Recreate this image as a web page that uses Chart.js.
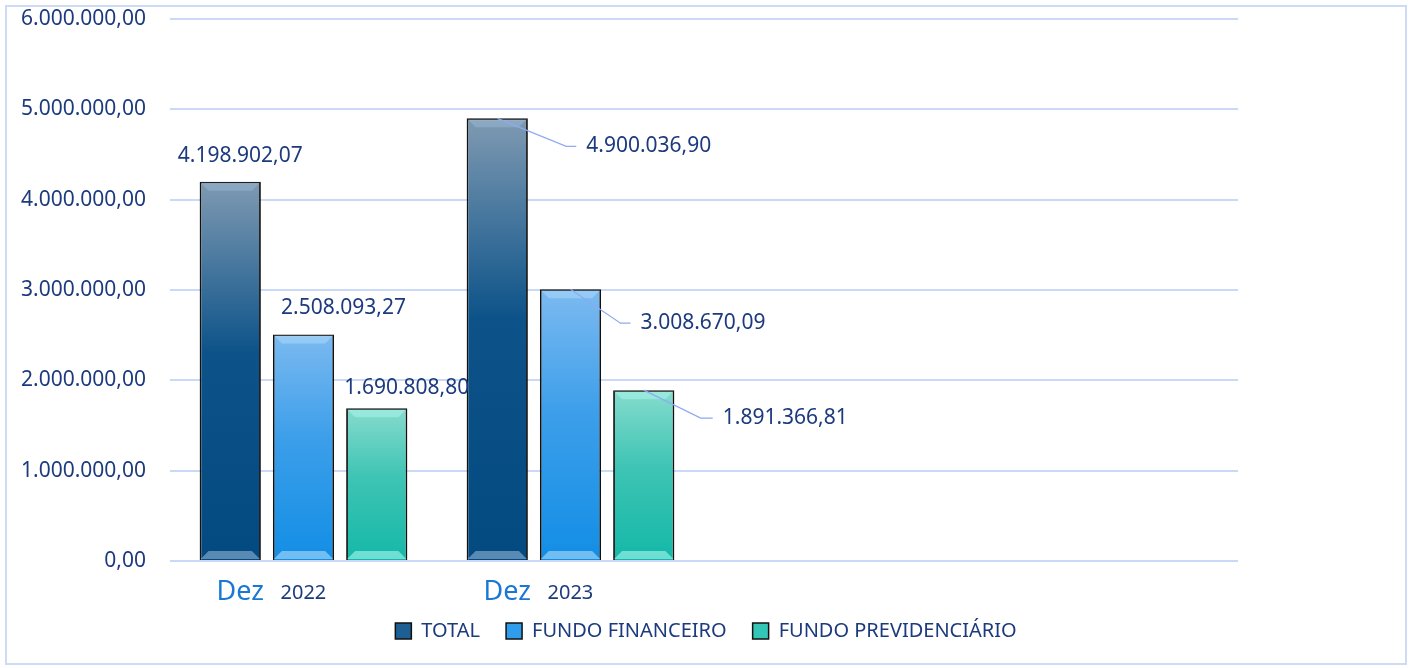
<!DOCTYPE html>
<html lang="pt">
<head>
  <meta charset="UTF-8" />
  <title>Total / Fundo Financeiro / Fundo Previdenciário</title>
  <script src="https://cdn.jsdelivr.net/npm/chart.js"></script>
  <style>
    html, body {
      margin: 0;
      padding: 0;
      background: #fff;
    }

    .frame {
      position: absolute;
      left: 5px;
      top: 5px;
      width: 1398px;
      height: 656px;
      border: 2px solid #cddcf4;
      pointer-events: none;
    }

    .chart-wrap {
      position: absolute;
      left: 0;
      top: 0;
      width: 1412px;
      height: 668px;
    }
  </style>
</head>
<body>
  <div class="chart-wrap">
    <canvas id="chart"></canvas>
  </div>
  <div class="frame"></div>

  <script>
    // periods (last two slots are empty in the original)
    const months = ['Dez', 'Dez', '', ''];
    const years = ['2022', '2023', '', ''];
    const seriesNames = ['TOTAL', 'FUNDO FINANCEIRO', 'FUNDO PREVIDENCIÁRIO'];
    const totalValues = [4198902.07, 4900036.90, null, null];
    const financeiroValues = [2508093.27, 3008670.09, null, null];
    const previdenciarioValues = [1690808.80, 1891366.81, null, null];
    const yTicks = [0, 1000000, 2000000, 3000000, 4000000, 5000000, 6000000];

    const textColor = '#1c3a7e';
    const fontFamily = '"Noto Sans", "Open Sans", sans-serif';

    const fmt = (v) => v.toLocaleString('pt-BR', { minimumFractionDigits: 2, maximumFractionDigits: 2 });

    // top/bottom colours of each bar gradient
    const palettes = [
      { top: '#7f9ab2', mid: '#0d5389', bottom: '#034a80', legend: '#1d5f92', bevel: '#9fc0dc' },
      { top: '#7cbaf0', mid: '#3d9fea', bottom: '#128ee5', legend: '#2f9cec', bevel: '#bfe6ff' },
      { top: '#86dccd', mid: '#3ec4b4', bottom: '#14b8a8', legend: '#33c6b6', bevel: '#b6fff4' }
    ];

    function barGradient(ctx, idx) {
      const chart = ctx.chart;
      if (!chart.chartArea || ctx.type !== 'data') return palettes[idx].mid;
      const y = chart.scales.y;
      const v = ctx.raw;
      if (v == null) return palettes[idx].mid;
      const top = y.getPixelForValue(v);
      const bottom = y.getPixelForValue(0);
      const g = chart.ctx.createLinearGradient(0, top, 0, bottom);
      const p = palettes[idx];
      g.addColorStop(0, p.top);
      g.addColorStop(0.45, p.mid);
      g.addColorStop(1, p.bottom);
      return g;
    }

    // label placement: 2022 labels above the bars, 2023 labels with leader lines
    const labelPlugin = {
      id: 'valueLabels',
      afterDatasetsDraw(chart) {
        const c = chart.ctx;
        c.save();
        c.font = '21px ' + fontFamily;
        c.fillStyle = textColor;
        c.textBaseline = 'middle';
        const above = [[10, -26], [40, -26], [30, -20]];
        const leader = [[69, 28, 10], [50, 34, 10], [57, 28, 12]];
        chart.data.datasets.forEach((ds, di) => {
          const meta = chart.getDatasetMeta(di);
          meta.data.forEach((bar, i) => {
            const v = ds.data[i];
            if (v == null) return;
            const txt = fmt(v);
            if (i === 0) {
              c.textAlign = 'center';
              c.fillText(txt, bar.x + above[di][0], bar.y + above[di][1]);
            } else {
              const [dx, dy, h] = leader[di];
              c.strokeStyle = '#8fa9f2';
              c.lineWidth = 1.2;
              c.beginPath();
              c.moveTo(bar.x, bar.y);
              c.lineTo(bar.x + dx, bar.y + dy);
              c.lineTo(bar.x + dx + h, bar.y + dy);
              c.stroke();
              c.textAlign = 'left';
              c.fillText(txt, bar.x + dx + h + 10, bar.y + dy);
            }
          });
        });
        c.restore();
      }
    };

    // bevel highlights on top/bottom of each bar
    const bevelPlugin = {
      id: 'bevel',
      afterDatasetDraw(chart, args) {
        const c = chart.ctx;
        const p = palettes[args.index];
        const vals = chart.data.datasets[args.index].data;
        c.save();
        args.meta.data.forEach((bar, i) => {
          if (vals[i] == null) return;
          const l = bar.x - bar.width / 2 + 1;
          const r = bar.x + bar.width / 2 - 1;
          const b = bar.base - 1;
          const t = bar.y + 1;
          const d = 8;
          c.fillStyle = p.bevel;
          c.globalAlpha = 0.55;
          c.beginPath();
          c.moveTo(l, b); c.lineTo(r, b); c.lineTo(r - d, b - d); c.lineTo(l + d, b - d);
          c.closePath(); c.fill();
          c.globalAlpha = 0.4;
          c.beginPath();
          c.moveTo(l, t); c.lineTo(r, t); c.lineTo(r - d, t + d); c.lineTo(l + d, t + d);
          c.closePath(); c.fill();
        });
        c.restore();
      }
    };

    // two-font category labels ("Dez" + year)
    const catPlugin = {
      id: 'catLabels',
      afterDraw(chart) {
        const c = chart.ctx;
        const x = chart.scales.x;
        const yPos = chart.chartArea.bottom + 31;
        c.save();
        c.textBaseline = 'middle';
        months.forEach((m, i) => {
          if (!m) return;
          const cx = x.getPixelForValue(i);
          c.textAlign = 'left';
          c.font = '27px ' + fontFamily;
          c.fillStyle = '#1a78d4';
          c.fillText(m, cx - 87, yPos);
          c.font = '20px ' + fontFamily;
          c.fillStyle = textColor;
          c.fillText(years[i], cx - 23, yPos + 1);
        });
        c.restore();
      }
    };

    new Chart(document.getElementById('chart'), {
      type: 'bar',
      data: {
        labels: months.map((m, i) => (m + ' ' + years[i]).trim()),
        datasets: [totalValues, financeiroValues, previdenciarioValues].map((vals, idx) => ({
          label: seriesNames[idx],
          data: vals,
          backgroundColor: (ctx) => barGradient(ctx, idx),
          borderColor: '#111',
          borderWidth: 1.8,
          categoryPercentage: 0.823,
          barPercentage: 0.836
        }))
      },
      options: {
        responsive: true,
        maintainAspectRatio: false,
        animation: false,
        layout: {
          padding: { top: 19, right: 0, bottom: 17, left: 0 }
        },
        scales: {
          x: {
            // kept only to reserve room for the category labels drawn by catPlugin
            border: { display: false },
            grid: { display: false, drawTicks: false },
            ticks: {
              color: 'rgba(0,0,0,0)',
              padding: 2,
              maxRotation: 0,
              autoSkip: false,
              font: { family: fontFamily, size: 20 }
            },
            afterFit: (axis) => {
              axis.height = 34;
              axis.paddingLeft = 0;
              axis.paddingRight = 0;
            }
          },
          y: {
            min: 0,
            max: 6000000,
            afterBuildTicks: (axis) => { axis.ticks = yTicks.map((v) => ({ value: v })); },
            afterFit: (axis) => {
              axis.width = 170;
              axis.paddingTop = 0;
              axis.paddingBottom = 0;
            },
            border: { display: false },
            grid: {
              color: '#c9d9f7',
              lineWidth: 2,
              drawTicks: false
            },
            ticks: {
              color: textColor,
              padding: 24,
              font: { family: fontFamily, size: 21 },
              callback: (v) => fmt(v)
            }
          },
          yRight: {
            // empty right-hand margin of the original plot
            position: 'right',
            display: true,
            border: { display: false },
            grid: { display: false, drawTicks: false },
            ticks: { display: false },
            afterFit: (axis) => {
              axis.width = 174;
              axis.paddingTop = 0;
              axis.paddingBottom = 0;
            }
          }
        },
        plugins: {
          tooltip: { enabled: false },
          legend: {
            position: 'bottom',
            labels: {
              color: textColor,
              font: { family: fontFamily, size: 20 },
              boxWidth: 16,
              boxHeight: 16,
              padding: 26,
              generateLabels: (chart) => seriesNames.map((n, i) => ({
                text: n,
                fillStyle: palettes[i].legend,
                strokeStyle: '#111',
                lineWidth: 1.5,
                datasetIndex: i,
                fontColor: textColor
              }))
            }
          }
        }
      },
      plugins: [bevelPlugin, labelPlugin, catPlugin]
    });
  </script>
</body>
</html>
